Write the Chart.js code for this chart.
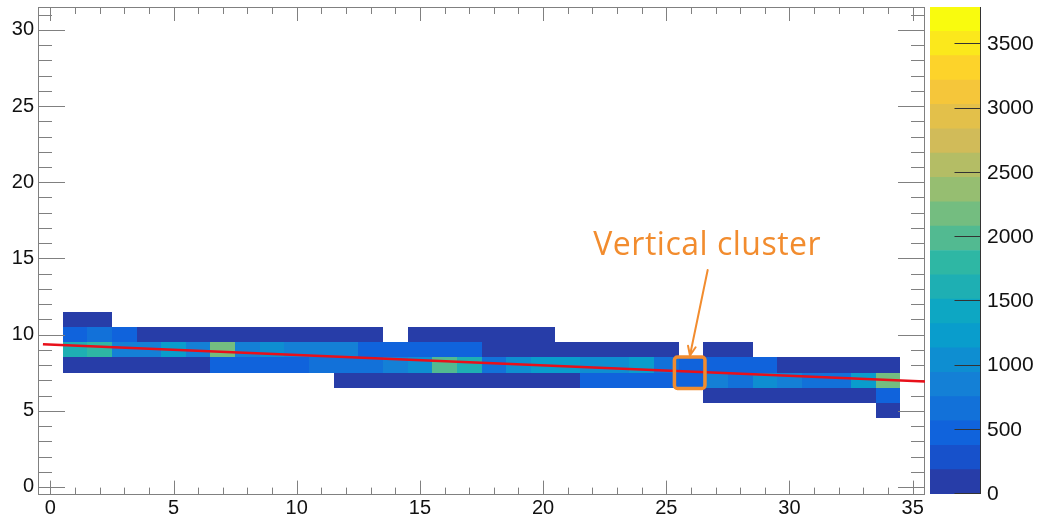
<!DOCTYPE html>
<html>
<head>
<meta charset="utf-8">
<script src="https://cdn.jsdelivr.net/npm/chart.js@4.4.0/dist/chart.umd.min.js"></script>
<style>
  html, body { margin: 0; padding: 0; background: #fff; }
  #wrap { position: relative; width: 1038px; height: 519px; }
  #main { position: absolute; left: 0; top: 0; }
  #zbar { position: absolute; left: 920px; top: 0; }
</style>
</head>
<body>
<div id="wrap">
  <canvas id="main" width="940" height="519"></canvas>
  <canvas id="zbar" width="118" height="519"></canvas>
</div>
<script>
// bin centres along x, and the y rows that have entries
const xBins = [1, 2, 3, 4, 5, 6, 7, 8, 9, 10, 11, 12, 13, 14, 15, 16, 17,
               18, 19, 20, 21, 22, 23, 24, 25, 26, 27, 28, 29, 30, 31, 32, 33, 34];
const rowY = [11, 10, 9, 8, 7, 6, 5];

// counts per row, one entry per x bin (0 = empty)
const counts11 = [110, 95, 0, 0, 0, 0, 0, 0, 0, 0, 0, 0, 0, 0, 0, 0, 0,
                  0, 0, 0, 0, 0, 0, 0, 0, 0, 0, 0, 0, 0, 0, 0, 0, 0];
const counts10 = [560, 610, 540, 130, 120, 140, 150, 110, 120, 100, 130, 90, 80, 0, 70, 90, 110,
                  100, 80, 60, 0, 0, 0, 0, 0, 0, 0, 0, 0, 0, 0, 0, 0, 0];
const counts9  = [1550, 1780, 900, 820, 1280, 860, 2250, 850, 1120, 800, 880, 780, 430, 560, 560, 540, 420,
                  150, 140, 130, 120, 110, 100, 90, 100, 0, 90, 80, 0, 0, 0, 0, 0, 0];
const counts8  = [90, 100, 120, 130, 150, 160, 480, 500, 470, 520, 620, 650, 640, 780, 1080, 2020, 1640,
                  620, 1050, 1200, 1250, 950, 960, 1150, 700, 520, 560, 430, 420, 160, 140, 120, 110, 100];
const counts7  = [0, 0, 0, 0, 0, 0, 0, 0, 0, 0, 0, 90, 100, 110, 120, 130, 140,
                  150, 140, 130, 120, 500, 520, 480, 500, 540, 880, 720, 950, 800, 700, 680, 1300, 2200];
const counts6  = [0, 0, 0, 0, 0, 0, 0, 0, 0, 0, 0, 0, 0, 0, 0, 0, 0,
                  0, 0, 0, 0, 0, 0, 0, 0, 0, 80, 90, 100, 110, 120, 140, 170, 480];
const counts5  = [0, 0, 0, 0, 0, 0, 0, 0, 0, 0, 0, 0, 0, 0, 0, 0, 0,
                  0, 0, 0, 0, 0, 0, 0, 0, 0, 0, 0, 0, 0, 0, 0, 0, 120];
const rows = [counts11, counts10, counts9, counts8, counts7, counts6, counts5];

// straight-line fit through the track
const fitX = [-0.3, 35.5];
const fitY = [9.37, 6.92];

// axis ticks
const xTicks = [0, 5, 10, 15, 20, 25, 30, 35];
const yTicks = [0, 5, 10, 15, 20, 25, 30];
const zTicks = [0, 500, 1000, 1500, 2000, 2500, 3000, 3500];
const zMax = 3790;
const zLevels = 20;

// annotation around the marked cluster
const noteText = 'Vertical cluster';
const boxX = [25.33, 26.57], boxY = [6.47, 8.53];
const arrowFrom = [26.68, 14.24], arrowTo = [25.96, 8.63];
const noteAt = [26.66, 15.23];
const noteColor = '#f28c2e';

// ROOT "bird" palette
const birdStops = [0, 0.125, 0.25, 0.375, 0.5, 0.625, 0.75, 0.875, 1];
const birdR = [0.2082, 0.0592, 0.0780, 0.0232, 0.1802, 0.5301, 0.8186, 0.9956, 0.9764];
const birdG = [0.1664, 0.3599, 0.5041, 0.6419, 0.7178, 0.7492, 0.7328, 0.7862, 0.9832];
const birdB = [0.5293, 0.8684, 0.8385, 0.7914, 0.6425, 0.4662, 0.3499, 0.1968, 0.0539];

function bird(f) {
  let i = 0;
  while (i < birdStops.length - 2 && f > birdStops[i + 1]) i++;
  const t = (f - birdStops[i]) / (birdStops[i + 1] - birdStops[i]);
  const c = arr => Math.round(255 * (arr[i] + t * (arr[i + 1] - arr[i])));
  return `rgb(${c(birdR)},${c(birdG)},${c(birdB)})`;
}
function bandColor(k) {
  const idx = Math.min(254, Math.floor(0.01 + (k + 0.99) * 255 / zLevels));
  return bird(idx / 254);
}
function levelColor(v) {
  const k = Math.min(zLevels - 1, Math.floor(v / (zMax / zLevels)));
  return bandColor(k);
}

const axisFont = { family: 'Liberation Sans, Arial, sans-serif', size: 20 };
const frameColor = '#808080';

// drop the label overhang Chart.js reserves, so the plot frame sits where we put it
function noOverhang(s) {
  s.paddingTop = 0; s.paddingBottom = 0; s.paddingLeft = 0; s.paddingRight = 0;
}

// cells, frame and ROOT-style inward ticks
const hist2d = {
  id: 'hist2d',
  beforeDatasetsDraw(chart) {
    const { ctx, chartArea: a, scales: { x, y } } = chart;
    ctx.save();
    rowY.forEach((yc, r) => {
      rows[r].forEach((v, i) => {
        if (!v) return;
        const xc = xBins[i];
        const l = Math.round(x.getPixelForValue(xc - 0.5));
        const rr = Math.round(x.getPixelForValue(xc + 0.5));
        const t = Math.round(y.getPixelForValue(yc + 0.5));
        const b = Math.round(y.getPixelForValue(yc - 0.5));
        ctx.fillStyle = levelColor(v);
        ctx.fillRect(l, t, rr - l, b - t);
      });
    });

    ctx.strokeStyle = frameColor;
    ctx.lineWidth = 1;
    ctx.strokeRect(Math.round(a.left) + 0.5, Math.round(a.top) + 0.5,
                   Math.round(a.right - a.left) - 1, Math.round(a.bottom - a.top) - 1);
    ctx.beginPath();
    for (let v = 0; v <= 35; v++) {
      const px = Math.round(x.getPixelForValue(v)) + 0.5;
      const len = v % 5 === 0 ? 14 : 7;
      ctx.moveTo(px, a.bottom); ctx.lineTo(px, a.bottom - len);
      ctx.moveTo(px, a.top); ctx.lineTo(px, a.top + len);
    }
    for (let v = 0; v <= 31; v++) {
      const py = Math.round(y.getPixelForValue(v)) + 0.5;
      const len = v % 5 === 0 ? 27 : 14;
      ctx.moveTo(a.left, py); ctx.lineTo(a.left + len, py);
      ctx.moveTo(a.right, py); ctx.lineTo(a.right - len, py);
    }
    ctx.stroke();
    ctx.restore();
  },
  afterDatasetsDraw(chart) {
    const { ctx, scales: { x, y } } = chart;
    ctx.save();
    ctx.strokeStyle = noteColor;
    ctx.fillStyle = noteColor;

    // box round the cluster
    const l = x.getPixelForValue(boxX[0]), r = x.getPixelForValue(boxX[1]);
    const t = y.getPixelForValue(boxY[1]), b = y.getPixelForValue(boxY[0]);
    ctx.lineWidth = 3.5;
    ctx.beginPath();
    ctx.roundRect(l, t, r - l, b - t, 3);
    ctx.stroke();

    // arrow
    const x0 = x.getPixelForValue(arrowFrom[0]), y0 = y.getPixelForValue(arrowFrom[1]);
    const x1 = x.getPixelForValue(arrowTo[0]), y1 = y.getPixelForValue(arrowTo[1]);
    const ang = Math.atan2(y1 - y0, x1 - x0);
    ctx.lineWidth = 2;
    ctx.lineCap = 'round';
    ctx.beginPath();
    ctx.moveTo(x0, y0); ctx.lineTo(x1, y1);
    ctx.moveTo(x1 - 10 * Math.cos(ang - 0.4), y1 - 10 * Math.sin(ang - 0.4));
    ctx.lineTo(x1, y1);
    ctx.lineTo(x1 - 10 * Math.cos(ang + 0.4), y1 - 10 * Math.sin(ang + 0.4));
    ctx.stroke();

    // label
    ctx.font = '32px "Open Sans", Lato, sans-serif';
    ctx.letterSpacing = '0.5px';
    ctx.textAlign = 'center';
    ctx.textBaseline = 'alphabetic';
    ctx.fillText(noteText, x.getPixelForValue(noteAt[0]), y.getPixelForValue(noteAt[1]));
    ctx.restore();
  }
};

new Chart(document.getElementById('main'), {
  type: 'scatter',
  data: {
    datasets: [{
      data: fitX.map((v, i) => ({ x: v, y: fitY[i] })),
      showLine: true,
      borderColor: '#e8101a',
      borderWidth: 2.5,
      pointRadius: 0
    }]
  },
  options: {
    responsive: false,
    animation: false,
    layout: { padding: { top: 7, right: 15, left: 0, bottom: 0 } },
    plugins: { legend: { display: false }, tooltip: { enabled: false } },
    scales: {
      x: {
        type: 'linear', min: -0.5, max: 35.5,
        afterBuildTicks: s => { s.ticks = xTicks.map(v => ({ value: v })); },
        afterFit: s => { s.height = 24.4; noOverhang(s); },
        grid: { display: false, drawTicks: false },
        border: { display: false },
        ticks: { padding: 2, font: axisFont, color: '#111', maxRotation: 0, autoSkip: false,
                 callback: v => String(v) }
      },
      y: {
        type: 'linear', min: -0.5, max: 31.5,
        afterBuildTicks: s => { s.ticks = yTicks.map(v => ({ value: v })); },
        afterFit: s => { s.width = 38; noOverhang(s); },
        grid: { display: false, drawTicks: false },
        border: { display: false },
        ticks: { padding: 4, font: axisFont, color: '#111', autoSkip: false,
                 callback: v => String(v) }
      }
    }
  },
  plugins: [hist2d]
});

// colour scale: stacked bands, one per contour level
const bandDatasets = [];
for (let k = 0; k < zLevels; k++) {
  bandDatasets.push({
    data: [zMax / zLevels],
    backgroundColor: bandColor(k),
    borderWidth: 0,
    barPercentage: 1,
    categoryPercentage: 1
  });
}

const zAxisTicks = {
  id: 'zAxisTicks',
  afterDatasetsDraw(chart) {
    const { ctx, chartArea: a, scales: { y } } = chart;
    ctx.save();
    ctx.strokeStyle = '#333';
    ctx.lineWidth = 1;
    ctx.beginPath();
    const rx = Math.round(a.right) + 0.5;
    ctx.moveTo(rx, a.top); ctx.lineTo(rx, a.bottom);
    zTicks.forEach(v => {
      const py = Math.round(y.getPixelForValue(v)) - 0.5;
      ctx.moveTo(rx, py); ctx.lineTo(rx - 26, py);
    });
    ctx.stroke();
    ctx.restore();
  }
};

new Chart(document.getElementById('zbar'), {
  type: 'bar',
  data: { labels: ['z'], datasets: bandDatasets },
  options: {
    responsive: false,
    animation: false,
    layout: { padding: { top: 7, left: 10, right: 0, bottom: 25 } },
    plugins: { legend: { display: false }, tooltip: { enabled: false } },
    scales: {
      x: { display: false, stacked: true },
      y: {
        stacked: true, position: 'right', min: 0, max: zMax,
        afterBuildTicks: s => { s.ticks = zTicks.map(v => ({ value: v })); },
        afterFit: s => { s.width = 58; noOverhang(s); },
        grid: { display: false, drawTicks: false },
        border: { display: false },
        ticks: { padding: 7, font: { family: axisFont.family, size: 21 }, color: '#111', autoSkip: false,
                 callback: v => String(v) }
      }
    }
  },
  plugins: [zAxisTicks]
});
</script>
</body>
</html>
